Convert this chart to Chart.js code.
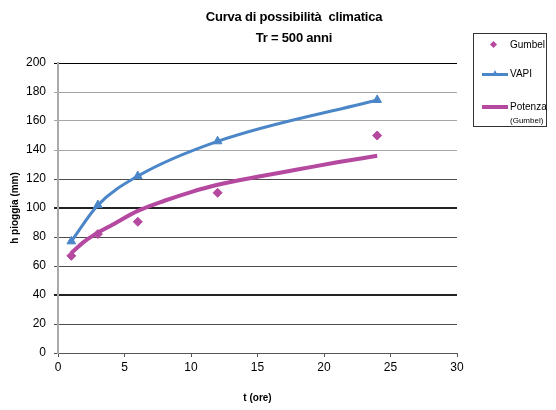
<!DOCTYPE html>
<html><head><meta charset="utf-8">
<script src="https://cdn.jsdelivr.net/npm/chart.js@4"></script>
<style>
body{margin:0;background:#fff;}
#wrap{position:relative;width:556px;height:410px;font-family:"Liberation Sans",Arial,sans-serif;color:#000;}
#title{position:absolute;left:174px;width:240px;top:6px;text-align:center;font-weight:bold;font-size:13px;line-height:21px;letter-spacing:-0.2px;}
#legend{position:absolute;left:473px;top:33px;width:72px;height:92px;border:1px solid #333;font-size:10px;}
#legend .t{position:absolute;left:36px;line-height:12px;white-space:nowrap;}
#legend .ln{position:absolute;left:8px;width:26px;}
#legend .dm{position:absolute;width:5px;height:5px;background:#b5489f;transform:rotate(45deg);}
#legend .tri{position:absolute;width:0;height:0;border-left:3px solid transparent;border-right:3px solid transparent;border-bottom:6px solid #4a86c8;}
</style></head>
<body>
<div id="wrap">
<canvas id="c" width="556" height="410"></canvas>
<div id="title">Curva di possibilità&nbsp; climatica<br>Tr = 500 anni</div>
<div id="legend">
  <div class="dm" style="left:17px;top:8px;"></div>
  <div class="t" style="top:5px;">Gumbel</div>
  <div class="ln" style="top:39px;height:3px;background:#4a86c8;"></div>
  <div class="tri" style="left:18px;top:36px;"></div>
  <div class="t" style="top:34px;">VAPI</div>
  <div class="ln" style="top:71px;height:4px;background:#b5489f;"></div>
  <div class="t" style="top:67px;">Potenza</div>
  <div class="t" style="top:81px;font-size:8px;">(Gumbel)</div>
</div>
</div>
<script>
const durations = [1, 3, 6, 12, 24];
const gumbelValues = [67, 82, 90.5, 110.5, 150];
const vapiValues = [77, 102, 122, 146, 174.5];
const potenzaT = [1, 2, 3, 4, 6, 8, 10, 12, 15, 18, 21, 24];
const potenzaValues = [69, 77, 83, 88, 98, 105, 111, 116, 121.5, 126.5, 131.5, 136];
const xTicks = [0, 5, 10, 15, 20, 25, 30];
const yTicks = [0, 20, 40, 60, 80, 100, 120, 140, 160, 180, 200];

const pts = (xs, ys) => xs.map((x, i) => ({x: x, y: ys[i]}));
const BLUE = '#4a86c8', MAG = '#b5489f';

function gridColor(ctx) {
  const v = ctx.tick ? ctx.tick.value : 0;
  if (v === 200) return '#000';
  if (v >= 140) return '#a6a6a6';
  if (v === 100 || v === 40) return '#222';
  return '#4d4d4d';
}
function gridWidth(ctx) {
  const v = ctx.tick ? ctx.tick.value : 0;
  if (v === 100 || v === 40) return 2;
  return 1;
}

new Chart(document.getElementById('c'), {
  type: 'line',
  data: {
    datasets: [
      { label: 'Potenza (Gumbel)', data: pts(potenzaT, potenzaValues), borderColor: MAG, borderWidth: 4,
        pointRadius: 0, cubicInterpolationMode: 'monotone', fill: false, order: 2 },
      { label: 'VAPI', data: pts(durations, vapiValues), borderColor: BLUE, backgroundColor: BLUE, borderWidth: 3,
        pointStyle: 'triangle', pointRadius: 5, pointBorderWidth: 1, cubicInterpolationMode: 'monotone', fill: false, order: 1 },
      { label: 'Gumbel', data: pts(durations, gumbelValues), showLine: false, borderColor: MAG, backgroundColor: MAG,
        pointStyle: 'rectRot', pointRadius: 4.5, pointBorderWidth: 1, order: 0 }
    ]
  },
  options: {
    responsive: false,
    animation: false,
    layout: { padding: { left: 0, right: 99, top: 63, bottom: 0 } },
    plugins: { legend: { display: false }, title: { display: false }, tooltip: { enabled: false } },
    scales: {
      x: {
        type: 'linear', min: 0, max: 30,
        afterBuildTicks: s => { s.ticks = xTicks.map(v => ({value: v})); },
        afterFit: s => { s.height = 57; },
        grid: { drawOnChartArea: false, drawTicks: true, tickLength: 4, color: '#555' },
        border: { color: '#555', width: 1 },
        ticks: { color: '#000', padding: 3, font: { family: '"Liberation Sans", Arial', size: 12 } },
        title: { display: true, text: 't (ore)', color: '#000', padding: { bottom: 6, top: 0 },
                 font: { family: '"Liberation Sans", Arial', size: 10, weight: 'bold' } }
      },
      y: {
        type: 'linear', min: 0, max: 200,
        afterBuildTicks: s => { s.ticks = yTicks.map(v => ({value: v})); },
        afterFit: s => { s.width = 58; },
        grid: { drawOnChartArea: true, drawTicks: true, tickLength: 4, color: gridColor, lineWidth: gridWidth },
        border: { color: '#aaa', width: 2 },
        ticks: { color: '#000', padding: 8, font: { family: '"Liberation Sans", Arial', size: 12 } },
        title: { display: true, text: 'h pioggia (mm)', color: '#000', padding: { top: 9, bottom: 0 },
                 font: { family: '"Liberation Sans", Arial', size: 10, weight: 'bold' } }
      }
    }
  }
});
</script>
</body></html>
